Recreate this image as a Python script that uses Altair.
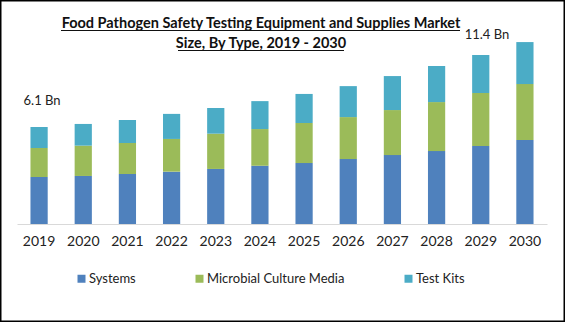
import altair as alt
import pandas as pd

years = ["2019", "2020", "2021", "2022", "2023", "2024", "2025", "2026", "2027", "2028", "2029", "2030"]
types = ["Systems", "Microbial Culture Media", "Test Kits"]
colors = ["#4F81BD", "#9BBB59", "#4BACC6"]
systems = [2.94, 3.01, 3.13, 3.28, 3.45, 3.65, 3.82, 4.07, 4.32, 4.57, 4.89, 5.26]
microbial = [1.82, 1.90, 1.94, 2.05, 2.21, 2.30, 2.51, 2.63, 2.82, 3.07, 3.32, 3.51]
test_kits = [1.32, 1.36, 1.44, 1.57, 1.61, 1.75, 1.82, 1.94, 2.13, 2.26, 2.38, 2.63]
title_lines = ["Food Pathogen Safety Testing Equipment and Supplies Market", "Size, By Type, 2019 - 2030"]

FONT = "Lato"

rows = []
for i, yr in enumerate(years):
    for k, (t, vals) in enumerate(zip(types, [systems, microbial, test_kits])):
        rows.append({"year": yr, "type": t, "value": vals[i], "k": k})
df = pd.DataFrame(rows)

totals = pd.DataFrame({
    "year": years,
    "total": [round(a + b + c, 2) for a, b, c in zip(systems, microbial, test_kits)],
})
totals["label"] = totals["total"].map(lambda v: f"{v:.1f} Bn")

x_enc = alt.X(
    "year:N",
    sort=years,
    scale=alt.Scale(range=[17, 547], paddingInner=0.61, paddingOuter=0.305),
    axis=alt.Axis(title=None, orient="bottom", offset=-98, labelAngle=0, ticks=False,
                  domainColor="#d9d9d9", domainWidth=1, labelFont=FONT, labelFontSize=14,
                  labelColor="#222222", labelPadding=10, grid=False),
)
y_scale = alt.Scale(domain=[0, 12], range=[224, 32.5], nice=False, zero=True)

bars = alt.Chart(df).mark_bar().encode(
    x=x_enc,
    y=alt.Y("value:Q", stack="zero", scale=y_scale, axis=None),
    color=alt.Color("type:N", scale=alt.Scale(domain=types, range=colors),
                    legend=alt.Legend(title=None, orient="none", legendX=75, legendY=272,
                                      direction="horizontal", symbolType="square",
                                      symbolSize=64, symbolStrokeWidth=0, labelFont=FONT,
                                      labelFontSize=13, labelColor="#222222", labelOffset=1,
                                      columnPadding=57, padding=0)),
    order=alt.Order("k:Q", sort="ascending"),
)

lab_first = alt.Chart(totals).transform_filter(alt.datum.year == years[0]).mark_text(
    font=FONT, fontSize=13, color="#222222", dx=3, dy=-26, baseline="middle"
).encode(x=alt.X("year:N", sort=years), y=alt.Y("total:Q", scale=y_scale), text="label:N")

lab_last = alt.Chart(totals).transform_filter(alt.datum.year == years[-1]).mark_text(
    font=FONT, fontSize=13, color="#222222", dx=-38, dy=-7, baseline="middle"
).encode(x=alt.X("year:N", sort=years), y=alt.Y("total:Q", scale=y_scale), text="label:N")

tdf = pd.DataFrame({"line": title_lines, "n": [0, 1]})
title1 = alt.Chart(tdf).transform_filter(alt.datum.n == 0).mark_text(
    font=FONT, fontSize=14.5, fontWeight="bold", color="#111111", align="center", baseline="alphabetic"
).encode(x=alt.value(261), y=alt.value(28), text="line:N")
title2 = alt.Chart(tdf).transform_filter(alt.datum.n == 1).mark_text(
    font=FONT, fontSize=14.5, fontWeight="bold", color="#111111", align="center", baseline="alphabetic"
).encode(x=alt.value(261), y=alt.value(48), text="line:N")

u1 = alt.Chart(tdf).transform_filter(alt.datum.n == 0).mark_rule(color="#111111", strokeWidth=1).encode(
    x=alt.value(61), x2=alt.value(460), y=alt.value(30.5))
u2 = alt.Chart(tdf).transform_filter(alt.datum.n == 1).mark_rule(color="#111111", strokeWidth=1).encode(
    x=alt.value(178), x2=alt.value(344), y=alt.value(50.5))

border = alt.Chart(tdf).transform_filter(alt.datum.n == 0).mark_rect(
    fill=None, fillOpacity=0, stroke="#000000", strokeWidth=1.5
).encode(x=alt.value(0.75), x2=alt.value(564.25), y=alt.value(0.75), y2=alt.value(321.25))

chart = alt.layer(bars, lab_first, lab_last, title1, title2, u1, u2, border).properties(
    width=565, height=322, autosize=alt.AutoSizeParams(type="none"), padding=0,
).configure_view(stroke=None).configure(background="white")

chart.save("out.html", embed_options={"renderer": "svg", "actions": False})
